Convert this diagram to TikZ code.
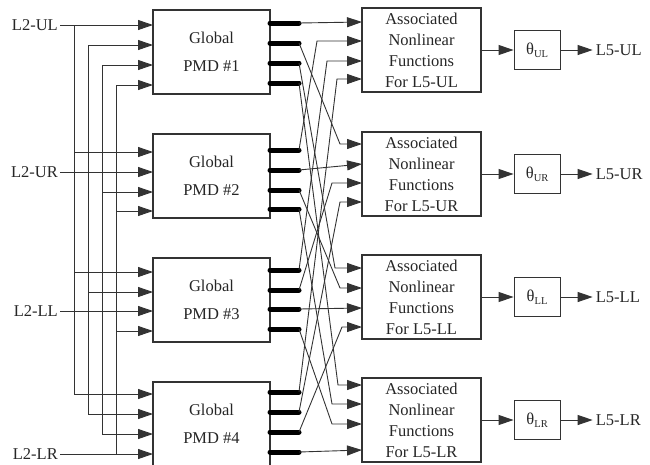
\documentclass[tikz,border=0pt]{standalone}
\usepackage{fontspec}
\setmainfont{Liberation Serif}
\usetikzlibrary{arrows.meta}
\usetikzlibrary{positioning}

\newcommand{\thsub}[1]{θ\raisebox{-0.45ex}{\fontsize{10.5}{10.5}\selectfont #1}}

\begin{document}
\begin{tikzpicture}[x=1pt, y=-1pt,
    every node/.style={font=\fontsize{16.5}{21}\selectfont, text=black!85},
    pmdbox/.style={draw=black!80, line width=1.1pt, minimum width=117pt, minimum height=84pt, align=center, inner sep=0pt, font=\fontsize{16.5}{28}\selectfont},
    funbox/.style={draw=black!80, line width=1.1pt, minimum width=119pt, minimum height=84pt, align=center, inner sep=0pt},
    thetabox/.style={draw=black!80, line width=1.1pt, minimum width=46pt, minimum height=39pt, inner sep=0pt},
    wire/.style={draw=black!80, line width=0.9pt},
    sig/.style={wire, -{Triangle[length=15pt,width=10pt]}},
    stub/.style={line width=5pt, line cap=round}]
        % Fix the page size
        \useasboundingbox (0,0) rectangle (650,464);

        % Draw the four PMD blocks
        \foreach \i/\t in {1/10, 2/134, 3/258, 4/382}
        {
          \node[pmdbox] (P\i) at (211.5,\t+42) {Global\\PMD \#\i};
        }

        % Input and output rows of the PMD blocks
        \foreach \i/\ys in {1/{25,45,65,85}, 2/{152,172,192,211}, 3/{272,292,311,331}, 4/{394,414,434,454}}
        {
          \foreach \y [count=\k] in \ys
          {
            \coordinate (pi\i\k) at (153,\y);
            \coordinate (po\i\k) at (270,\y-2);
            \coordinate (pe\i\k) at (299,\y-2);
            \draw[stub] (po\i\k) -- (pe\i\k);
          }
        }

        % Draw the input labels and the buses
        \coordinate (lx) at (60,0);
        \foreach \k/\s in {1/UL, 2/UR, 3/LL, 4/LR}
        {
          \node[anchor=east, inner sep=2pt] (L2\k) at (pi\k\k -| lx) {L2-\s};
          \draw[sig] (L2\k) -- (pi\k\k);
          \coordinate (bus\k) at ({60+14*\k},0);
          \draw[wire] (pi1\k -| bus\k) -- (pi4\k -| bus\k);
          \foreach \i in {1,...,4}
          {
            \ifnum\i=\k\else
              \draw[sig] (pi\i\k -| bus\k) -- (pi\i\k);
            \fi
          }
        }

        % Draw the function blocks, the theta blocks and the outputs
        \foreach \j/\t/\s in {1/8/UL, 2/132/UR, 3/255/LL, 4/378/LR}
        {
          \node[funbox] (F\j) at (421.5,\t+42) {Associated\\Nonlinear\\Functions\\For L5-\s};
          \node[thetabox, right=32pt of F\j] (T\j) {\thsub{\s}};
          \node[inner sep=3pt, right=32pt of T\j] (L5\j) {L5-\s};
          \draw[sig] (F\j) -- (T\j);
          \draw[sig] (T\j) -- (L5\j);
        }

        % Input rows of the function blocks
        \foreach \j/\ys in {1/{22,41,61,79}, 2/{144,164,183,202}, 3/{268,288,308,327}, 4/{385,404,424,450}}
        {
          \foreach \y [count=\k] in \ys
          {
            \coordinate (fi\j\k) at (362,\y);
          }
        }

        % Straight connections
        \foreach \i in {1,...,4}
        {
          \draw[sig] (pe\i\i) -- (fi\i\i);
        }

        % Crossing connections: PMD i output j to function j input i
        \foreach \i/\j/\b in {2/1/317, 3/1/327, 4/1/337, 1/2/340, 3/2/332, 4/2/340,
                              1/3/335, 2/3/340, 4/3/342, 1/4/338, 2/4/332, 3/4/332}
        {
          \coordinate (bx) at (\b,0);
          \draw[sig] (pe\i\j) -- (fi\j\i -| bx) -- (fi\j\i);
        }
      \end{tikzpicture}
\end{document}
